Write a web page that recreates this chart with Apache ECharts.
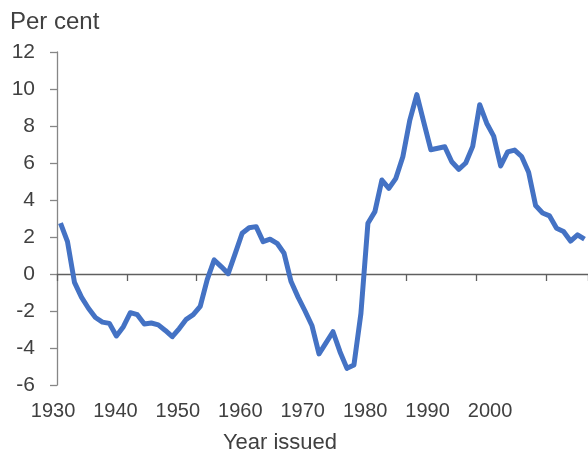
<!DOCTYPE html>
<html>
<head>
<meta charset="utf-8">
<script src="https://cdn.jsdelivr.net/npm/echarts@6/dist/echarts.min.js"></script>
<style>
	html, body { margin: 0; padding: 0; background: #fff; }
	#chart { width: 588px; height: 454px; }
</style>
</head>
<body>
<div id="chart"></div>
<script>
// one point per issue year, 1930 - 2005
var years = [];
for (var y = 1930; y <= 2005; y++) {
	years.push(String(y));
}
var realReturn = [
	2.75, 1.75, -0.45, -1.25, -1.85, -2.35, -2.6, -2.67, -3.35, -2.85,
	-2.09, -2.2, -2.7, -2.65, -2.75, -3.05, -3.39, -2.95, -2.45, -2.2,
	-1.75, -0.3, 0.76, 0.4, 0.02, 1.1, 2.2, 2.5, 2.56, 1.75,
	1.88, 1.66, 1.12, -0.41, -1.25, -2.0, -2.8, -4.32, -3.72, -3.12,
	-4.2, -5.1, -4.92, -2.13, 2.74, 3.37, 5.08, 4.63, 5.17, 6.34,
	8.32, 9.7, 8.2, 6.72, 6.8, 6.88, 6.07, 5.66, 6.0, 6.9,
	9.15, 8.15, 7.45, 5.84, 6.6, 6.7, 6.35, 5.5, 3.7, 3.3,
	3.14, 2.47, 2.3, 1.78, 2.12, 1.88
];
var yearLabels = [1930, 1940, 1950, 1960, 1970, 1980, 1990, 2000];

var textColor = '#404040';
var fontFamily = 'Liberation Sans, Arial, sans-serif';

var chart = echarts.init(document.getElementById('chart'));
chart.setOption({
	animation: false,
	grid: [{
		left: 57,
		top: 52,
		width: 534,
		height: 333
	}, {
		// full-width strip that only carries the year labels
		left: 0,
		top: 52,
		width: 588,
		height: 333
	}],
	xAxis: [{
		type: 'category',
		gridIndex: 0,
		data: years,
		boundaryGap: true,
		axisLine: {
			onZero: true,
			lineStyle: { color: '#5f5f5f', width: 1.3 }
		},
		axisTick: {
			show: true,
			alignWithLabel: false,
			interval: 9,
			length: 7,
			lineStyle: { color: '#5f5f5f', width: 1.3 }
		},
		axisLabel: { show: false },
		splitLine: { show: false }
	}, {
		type: 'value',
		gridIndex: 1,
		min: 1921.51,
		max: 2015.697,
		axisLine: { show: false, onZero: false },
		axisTick: { show: false },
		splitLine: { show: false },
		axisLabel: {
			customValues: yearLabels,
			color: textColor,
			fontSize: 20,
			fontFamily: fontFamily,
			margin: 16,
			formatter: function(v) {
				return String(v);
			}
		}
	}],
	yAxis: [{
		type: 'value',
		gridIndex: 0,
		min: -6,
		max: 12,
		interval: 2,
		axisLine: {
			show: true,
			lineStyle: { color: '#868686', width: 1.3 }
		},
		axisTick: {
			show: true,
			length: 7,
			lineStyle: { color: '#868686', width: 1.3 }
		},
		axisLabel: {
			color: textColor,
			fontSize: 21,
			fontFamily: fontFamily,
			margin: 22
		},
		splitLine: { show: false }
	}, {
		type: 'value',
		gridIndex: 1,
		min: -6,
		max: 12,
		show: false
	}],
	graphic: [{
		type: 'text',
		x: 10,
		y: 10,
		style: {
			text: 'Per cent',
			fill: textColor,
			fontSize: 24,
			fontFamily: fontFamily
		}
	}, {
		type: 'text',
		x: 280,
		y: 432,
		style: {
			text: 'Year issued',
			fill: textColor,
			fontSize: 22,
			fontFamily: fontFamily,
			align: 'center'
		}
	}],
	series: [{
		type: 'line',
		xAxisIndex: 0,
		yAxisIndex: 0,
		data: realReturn,
		symbol: 'none',
		lineStyle: {
			color: '#4472C4',
			width: 5,
			join: 'round'
		}
	}]
});
</script>
</body>
</html>
